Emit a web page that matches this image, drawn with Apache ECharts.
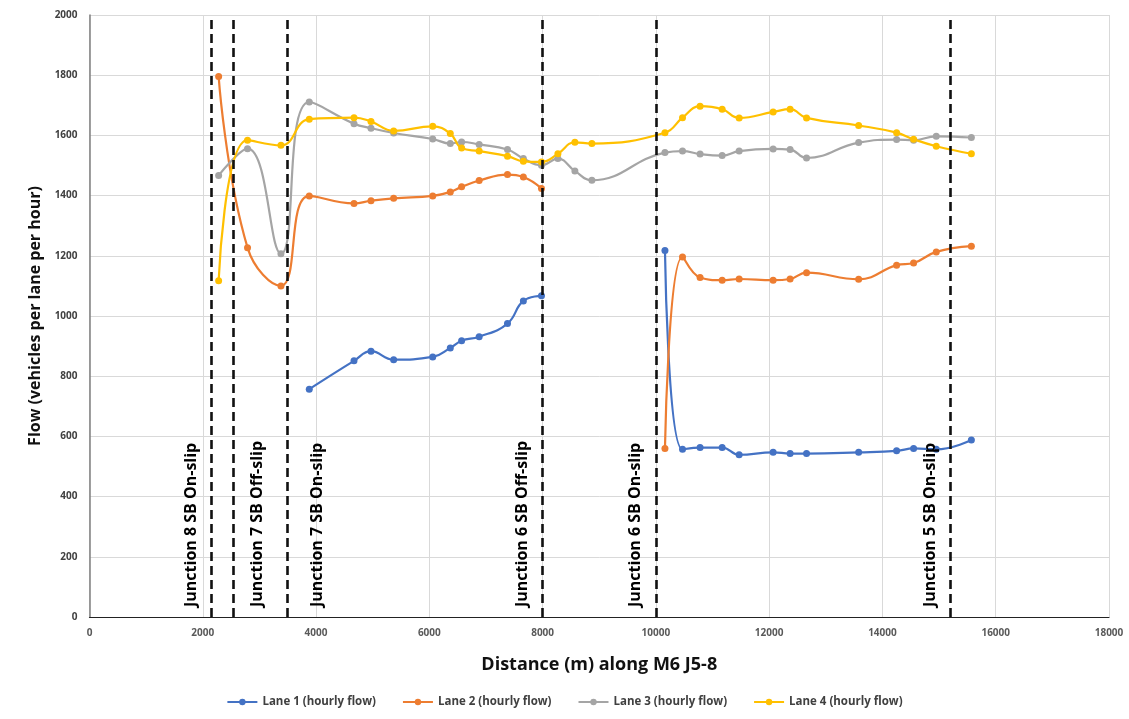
<!DOCTYPE html>
<html>
<head>
<meta charset="utf-8">
<script src="https://cdn.jsdelivr.net/npm/echarts@6/dist/echarts.min.js"></script>
<style>html,body{margin:0;padding:0;background:#fff}#c{width:1129px;height:719px}</style>
</head>
<body>
<div id="c"></div>
<script>
const distance = [2280, 2790, 3380, 3880, 4670, 4970, 5370, 6060, 6370, 6570, 6880, 7380, 7660, 7980, 8270, 8570, 8870, 10160, 10470, 10780, 11170, 11470, 12070, 12370, 12660, 13580, 14250, 14550, 14950, 15570];
const lane1 = [null, null, null, 757, 851, 883, 855, 864, 894, 918, 931, 975, 1050, 1067, null, null, null, 1218, 557, 563, 563, 539, 547, 543, 543, 547, 552, 560, 557, 588];
const lane2 = [1796, 1227, 1100, 1399, 1374, 1383, 1391, 1399, 1412, 1429, 1450, 1470, 1462, 1424, null, null, null, 560, 1196, 1128, 1119, 1123, 1119, 1123, 1144, 1122, 1169, 1176, 1213, 1232];
const lane3 = [1467, 1556, 1207, 1711, 1639, 1624, 1608, 1588, 1573, 1578, 1570, 1553, 1523, 1501, 1523, 1482, 1451, 1543, 1548, 1538, 1533, 1548, 1555, 1553, 1525, 1576, 1586, 1584, 1597, 1593];
const lane4 = [1117, 1584, 1567, 1654, 1659, 1646, 1615, 1630, 1606, 1558, 1548, 1531, 1514, 1512, 1539, 1577, 1573, 1609, 1659, 1697, 1687, 1658, 1678, 1687, 1658, 1633, 1609, 1587, 1564, 1539];
const seriesNames = ['Lane 1 (hourly flow)', 'Lane 2 (hourly flow)', 'Lane 3 (hourly flow)', 'Lane 4 (hourly flow)'];
const junctionX = [2150, 2540, 3500, 8000, 10000, 15200];
const junctionNames = ['Junction 8 SB On-slip', 'Junction 7 SB Off-slip', 'Junction 7 SB On-slip', 'Junction 6 SB Off-slip', 'Junction 6 SB On-slip', 'Junction 5 SB On-slip'];
const junctionSide = ['left', 'right', 'right', 'left', 'left', 'left'];
const xTicks = [0, 2000, 4000, 6000, 8000, 10000, 12000, 14000, 16000, 18000];
const yTicks = [0, 200, 400, 600, 800, 1000, 1200, 1400, 1600, 1800, 2000];

const colors = ['#4472C4', '#ED7D31', '#A5A5A5', '#FFC000'];
const lanes = [lane1, lane2, lane3, lane4];
const FONT = 'Open Sans';
const labelGap = [12, 16, 22, 12, 12, 12];

const series = lanes.map((arr, i) => ({
  name: seriesNames[i],
  type: 'line',
  data: distance.map((d, j) => [d, arr[j]]),
  smooth: 0.45,
  connectNulls: false,
  symbol: 'circle',
  symbolSize: 7,
  showSymbol: true,
  lineStyle: { width: 2.2, color: colors[i] },
  itemStyle: { color: colors[i] },
  z: 3
}));

series.push({
  name: 'junctions',
  type: 'line',
  data: [],
  markLine: {
    silent: true,
    symbol: ['none', 'none'],
    lineStyle: { color: '#111', type: [9, 5], width: 2.6 },
    animation: false,
    data: junctionX.map((x, i) => ({
      xAxis: x,
      label: {
        show: true,
        formatter: junctionNames[i],
        position: junctionSide[i] === 'left' ? 'insideStartTop' : 'insideStartBottom',
        distance: [10, labelGap[i]],
        color: '#000',
        fontFamily: FONT,
        fontWeight: 'bold',
        fontSize: 16
      }
    }))
  },
  z: 4
});

const chart = echarts.init(document.getElementById('c'), null, { renderer: 'canvas' });
chart.setOption({
  animation: false,
  color: colors,
  grid: { left: 89.5, right: 20, top: 15, bottom: 102, containLabel: false },
  xAxis: {
    type: 'value',
    min: xTicks[0],
    max: xTicks[xTicks.length - 1],
    interval: 2000,
    name: 'Distance (m) along M6 J5-8',
    nameLocation: 'middle',
    nameGap: 39,
    nameTextStyle: { fontFamily: FONT, fontWeight: 'bold', fontSize: 18, color: '#111' },
    axisLine: { show: true, lineStyle: { color: '#222', width: 1.2 } },
    axisTick: { show: false },
    axisLabel: { fontFamily: FONT, fontSize: 10, fontWeight: 'bold', color: '#595959', margin: 11, formatter: v => String(v) },
    splitLine: { show: true, lineStyle: { color: '#D9D9D9', width: 1 } }
  },
  yAxis: {
    type: 'value',
    min: yTicks[0],
    max: yTicks[yTicks.length - 1],
    interval: 200,
    name: 'Flow (vehicles per lane per hour)',
    nameLocation: 'middle',
    nameGap: 44,
    nameTextStyle: { fontFamily: FONT, fontWeight: 'bold', fontSize: 16, color: '#111' },
    axisLine: { show: true, lineStyle: { color: '#7F7F7F', width: 1.5 } },
    axisTick: { show: false },
    axisLabel: { fontFamily: FONT, fontSize: 10, fontWeight: 'bold', color: '#404040', margin: 12, formatter: v => String(v) },
    splitLine: { show: true, lineStyle: { color: '#D9D9D9', width: 1 } }
  },
  legend: {
    data: seriesNames,
    bottom: 6,
    left: 'center',
    itemGap: 26,
    itemWidth: 30,
    itemHeight: 8,
    textStyle: { fontFamily: FONT, fontSize: 11.5, fontWeight: 'bold', color: '#404040' }
  },
  series: series
});
</script>
</body>
</html>
